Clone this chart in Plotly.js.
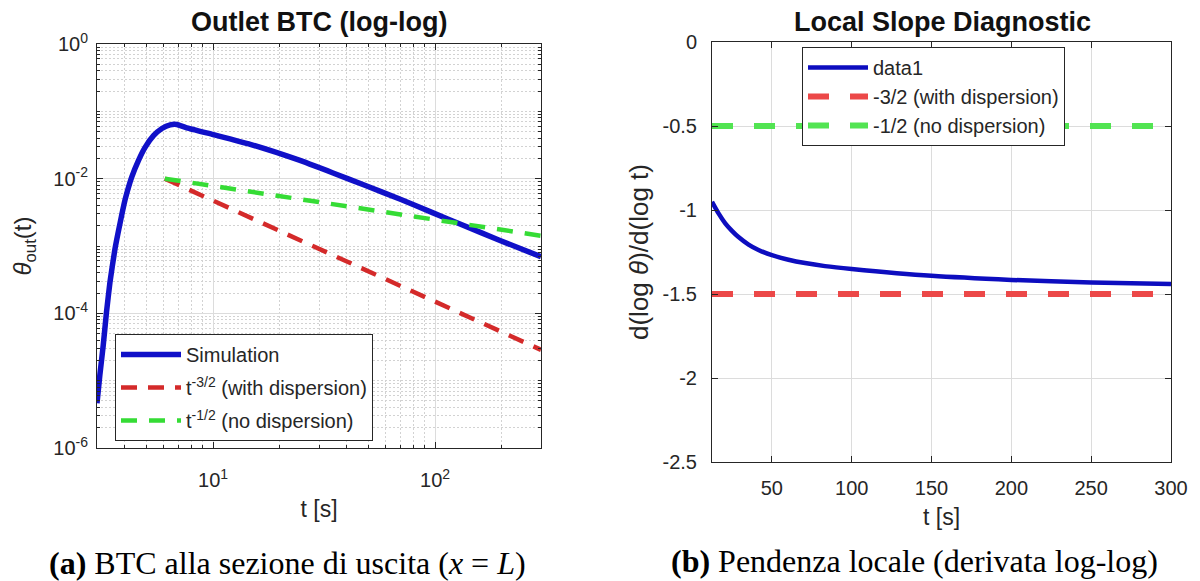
<!DOCTYPE html>
<html>
<head>
<meta charset="utf-8">
<script src="https://cdn.plot.ly/plotly-3.0.1.min.js"></script>
<style>
html,body{margin:0;padding:0;background:#ffffff;}
#chart{width:1200px;height:581px;}
</style>
</head>
<body>
<div id="chart"></div>
<script>
// ---------- Panel (a): outlet BTC, log-log ----------
const simT = [3.0, 3.09, 3.20, 3.31, 3.43, 3.61, 3.81, 4.01, 4.30, 4.61, 4.94, 5.39, 5.88, 6.41, 6.87, 7.55, 10.0, 14.7, 23.9, 34.7, 48.9, 70.2, 97.3, 132, 193.6, 300];
const simTheta = [4.63e-6, 1.21e-5, 3.34e-5, 1.035e-4, 2.86e-4, 8.83e-4, 2.18e-3, 4.80e-3, 1.057e-2, 1.858e-2, 2.92e-2, 4.34e-2, 5.55e-2, 6.30e-2, 6.38e-2, 5.74e-2, 4.52e-2, 3.236e-2, 1.928e-2, 1.216e-2, 7.85e-3, 4.90e-3, 3.13e-3, 2.065e-3, 1.23e-3, 6.92e-4];
const refT = [6.06, 300];
const refWithDisp = [1.0e-2, 2.87e-5];
const refNoDisp = [1.0e-2, 1.42e-3];

const leftXTickVals = [10, 100];
const leftXTickText = ['10<sup>1</sup>', '10<sup>2</sup>'];
const leftYTickVals = [1e-6, 1e-4, 1e-2, 1];
const leftYTickText = ['10<sup>-6</sup>', '10<sup>-4</sup>', '10<sup>-2</sup>', '10<sup>0</sup>'];

// ---------- Panel (b): local slope ----------
const slopeT = [12.5, 16.6, 20.8, 25.0, 29.1, 35.4, 41.6, 50, 60.4, 70.8, 83.3, 100, 150, 200, 250, 300];
const slopeVal = [-0.951, -1.020, -1.079, -1.124, -1.161, -1.206, -1.238, -1.269, -1.296, -1.316, -1.334, -1.351, -1.392, -1.416, -1.432, -1.441];
const slopeRefT = [12.5, 300];
const slopeWithDisp = [-1.5, -1.5];
const slopeNoDisp = [-0.5, -0.5];

const rightXTickVals = [50, 100, 150, 200, 250, 300];
const rightXTickText = ['50', '100', '150', '200', '250', '300'];
const rightYTickVals = [0, -0.5, -1, -1.5, -2, -2.5];
const rightYTickText = ['0', '-0.5', '-1', '-1.5', '-2', '-2.5'];

// minor grid positions for the log axes (2..9 per decade, plus unlabeled decades)
function logMinor(eMin, eMax, lo, hi, labeled) {
  const out = [];
  for (let e = eMin; e <= eMax; e++) {
    for (let k = 1; k <= 9; k++) {
      const v = k * Math.pow(10, e);
      if (v < lo * 0.999 || v > hi * 1.001) continue;
      if (k === 1 && labeled.indexOf(e) >= 0) continue;
      out.push(v);
    }
  }
  return out;
}
const xMinor = logMinor(0, 2, 3, 300, [1, 2]);
const yMinor = logMinor(-6, -1, 1e-6, 1, [-6, -4, -2, 0]);

const AX = '#262626';
const FONT = 'Liberation Sans, Arial, Helvetica, sans-serif';

const traces = [
  {x: simT, y: simTheta, xaxis: 'x', yaxis: 'y', mode: 'lines', name: 'Simulation',
   line: {color: '#1010c8', width: 5.5, shape: 'spline', smoothing: 0.4}, legend: 'legend', legendgroup: 'a1'},
  {x: refT, y: refWithDisp, xaxis: 'x', yaxis: 'y', mode: 'lines', name: 't<sup>-3/2</sup> (with dispersion)',
   line: {color: '#d42a2a', width: 4.5, dash: '16px,11px'}, legend: 'legend', legendgroup: 'a2'},
  {x: refT, y: refNoDisp, xaxis: 'x', yaxis: 'y', mode: 'lines', name: 't<sup>-1/2</sup> (no dispersion)',
   line: {color: '#35dc35', width: 4.5, dash: '16px,12px'}, legend: 'legend', legendgroup: 'a3'},
  {x: slopeT, y: slopeVal, xaxis: 'x2', yaxis: 'y2', mode: 'lines', name: 'data1',
   line: {color: '#0d0dbf', width: 4.5, shape: 'spline', smoothing: 0.8}, legend: 'legend2', legendgroup: 'b1'},
  {x: slopeRefT, y: slopeWithDisp, xaxis: 'x2', yaxis: 'y2', mode: 'lines', name: '-3/2 (with dispersion)',
   line: {color: '#ec4848', width: 6, dash: '21px,21px'}, legend: 'legend2', legendgroup: 'b2'},
  {x: slopeRefT, y: slopeNoDisp, xaxis: 'x2', yaxis: 'y2', mode: 'lines', name: '-1/2 (no dispersion)',
   line: {color: '#52e452', width: 6, dash: '21px,21px'}, legend: 'legend2', legendgroup: 'b3'}
];

const commonAxis = {
  showline: true, linecolor: AX, linewidth: 1, mirror: 'ticks',
  ticks: 'inside', ticklen: 6, tickcolor: AX, tickwidth: 1,
  showgrid: true, gridcolor: '#dcdcdc', gridwidth: 1, zeroline: false,
  tickfont: {family: FONT, size: 20, color: AX}
};

const layout = {
  width: 1200, height: 581,
  paper_bgcolor: '#ffffff', plot_bgcolor: '#ffffff',
  margin: {l: 0, r: 0, t: 0, b: 0},
  font: {family: FONT, color: AX},
  showlegend: true,
  xaxis: Object.assign({}, commonAxis, {
    domain: [97/1200, 541/1200], anchor: 'y', type: 'log',
    range: [Math.log10(3), Math.log10(300)],
    tickmode: 'array', tickvals: leftXTickVals, ticktext: leftXTickText,
    ticklabelstandoff: 14,
    minor: {tickmode: 'array', tickvals: xMinor, ticks: 'inside', ticklen: 3, tickcolor: AX,
            showgrid: true, gridcolor: '#d2d2d2', griddash: '2px,2px', gridwidth: 1},
    title: {text: 't [s]', font: {family: FONT, size: 23, color: AX}, standoff: 10}
  }),
  yaxis: Object.assign({}, commonAxis, {
    domain: [1 - 448/581, 1 - 44/581], anchor: 'x', type: 'log',
    range: [-6, 0],
    tickmode: 'array', tickvals: leftYTickVals, ticktext: leftYTickText,
    ticklabelstandoff: 4,
    minor: {tickmode: 'array', tickvals: yMinor, ticks: 'inside', ticklen: 3, tickcolor: AX,
            showgrid: true, gridcolor: '#d2d2d2', griddash: '2px,2px', gridwidth: 1},
    title: {text: '<i>θ</i><sub>out</sub>(t)', font: {family: FONT, size: 24, color: AX}, standoff: 14}
  }),
  xaxis2: Object.assign({}, commonAxis, {
    domain: [712/1200, 1171/1200], anchor: 'y2', type: 'linear',
    range: [12.5, 300],
    tickmode: 'array', tickvals: rightXTickVals, ticktext: rightXTickText,
    ticklabelstandoff: 8,
    title: {text: 't [s]', font: {family: FONT, size: 23, color: AX}, standoff: 10}
  }),
  yaxis2: Object.assign({}, commonAxis, {
    domain: [1 - 462/581, 1 - 42/581], anchor: 'x2', type: 'linear',
    range: [-2.5, 0],
    tickmode: 'array', tickvals: rightYTickVals, ticktext: rightYTickText,
    ticklabelstandoff: 10,
    title: {text: 'd(log <i>θ</i>)/d(log t)', font: {family: FONT, size: 26, color: AX}, standoff: 6}
  }),
  legend: {
    x: 115/1200, y: 1 - 334/581, xanchor: 'left', yanchor: 'top',
    bgcolor: '#ffffff', bordercolor: AX, borderwidth: 1,
    font: {family: FONT, size: 20, color: AX},
    itemwidth: 60, traceorder: 'grouped', tracegroupgap: 4
  },
  legend2: {
    x: 802/1200, y: 1 - 47/581, xanchor: 'left', yanchor: 'top',
    bgcolor: '#ffffff', bordercolor: AX, borderwidth: 1,
    font: {family: FONT, size: 20, color: AX},
    itemwidth: 60, traceorder: 'grouped', tracegroupgap: 0
  },
  annotations: [
    {text: '<b>Outlet BTC (log-log)</b>', xref: 'paper', yref: 'paper', x: 319/1200, y: 1 - 22/581,
     xanchor: 'center', yanchor: 'middle', showarrow: false, font: {family: FONT, size: 27, color: '#111111'}},
    {text: '<b>Local Slope Diagnostic</b>', xref: 'paper', yref: 'paper', x: 942/1200, y: 1 - 22/581,
     xanchor: 'center', yanchor: 'middle', showarrow: false, font: {family: FONT, size: 27, color: '#111111'}},
    {text: '<b>(a)</b> BTC alla sezione di uscita (<i>x</i> = <i>L</i>)', xref: 'paper', yref: 'paper',
     x: 287/1200, y: 1 - 563/581, xanchor: 'center', yanchor: 'middle', showarrow: false,
     font: {family: 'Liberation Serif, Times New Roman, serif', size: 32, color: '#000000'}},
    {text: '<b>(b)</b> Pendenza locale (derivata log-log)', xref: 'paper', yref: 'paper',
     x: 914/1200, y: 1 - 561/581, xanchor: 'center', yanchor: 'middle', showarrow: false,
     font: {family: 'Liberation Serif, Times New Roman, serif', size: 32, color: '#000000'}}
  ]
};

Plotly.newPlot('chart', traces, layout, {displayModeBar: false, staticPlot: true});
</script>
</body>
</html>
